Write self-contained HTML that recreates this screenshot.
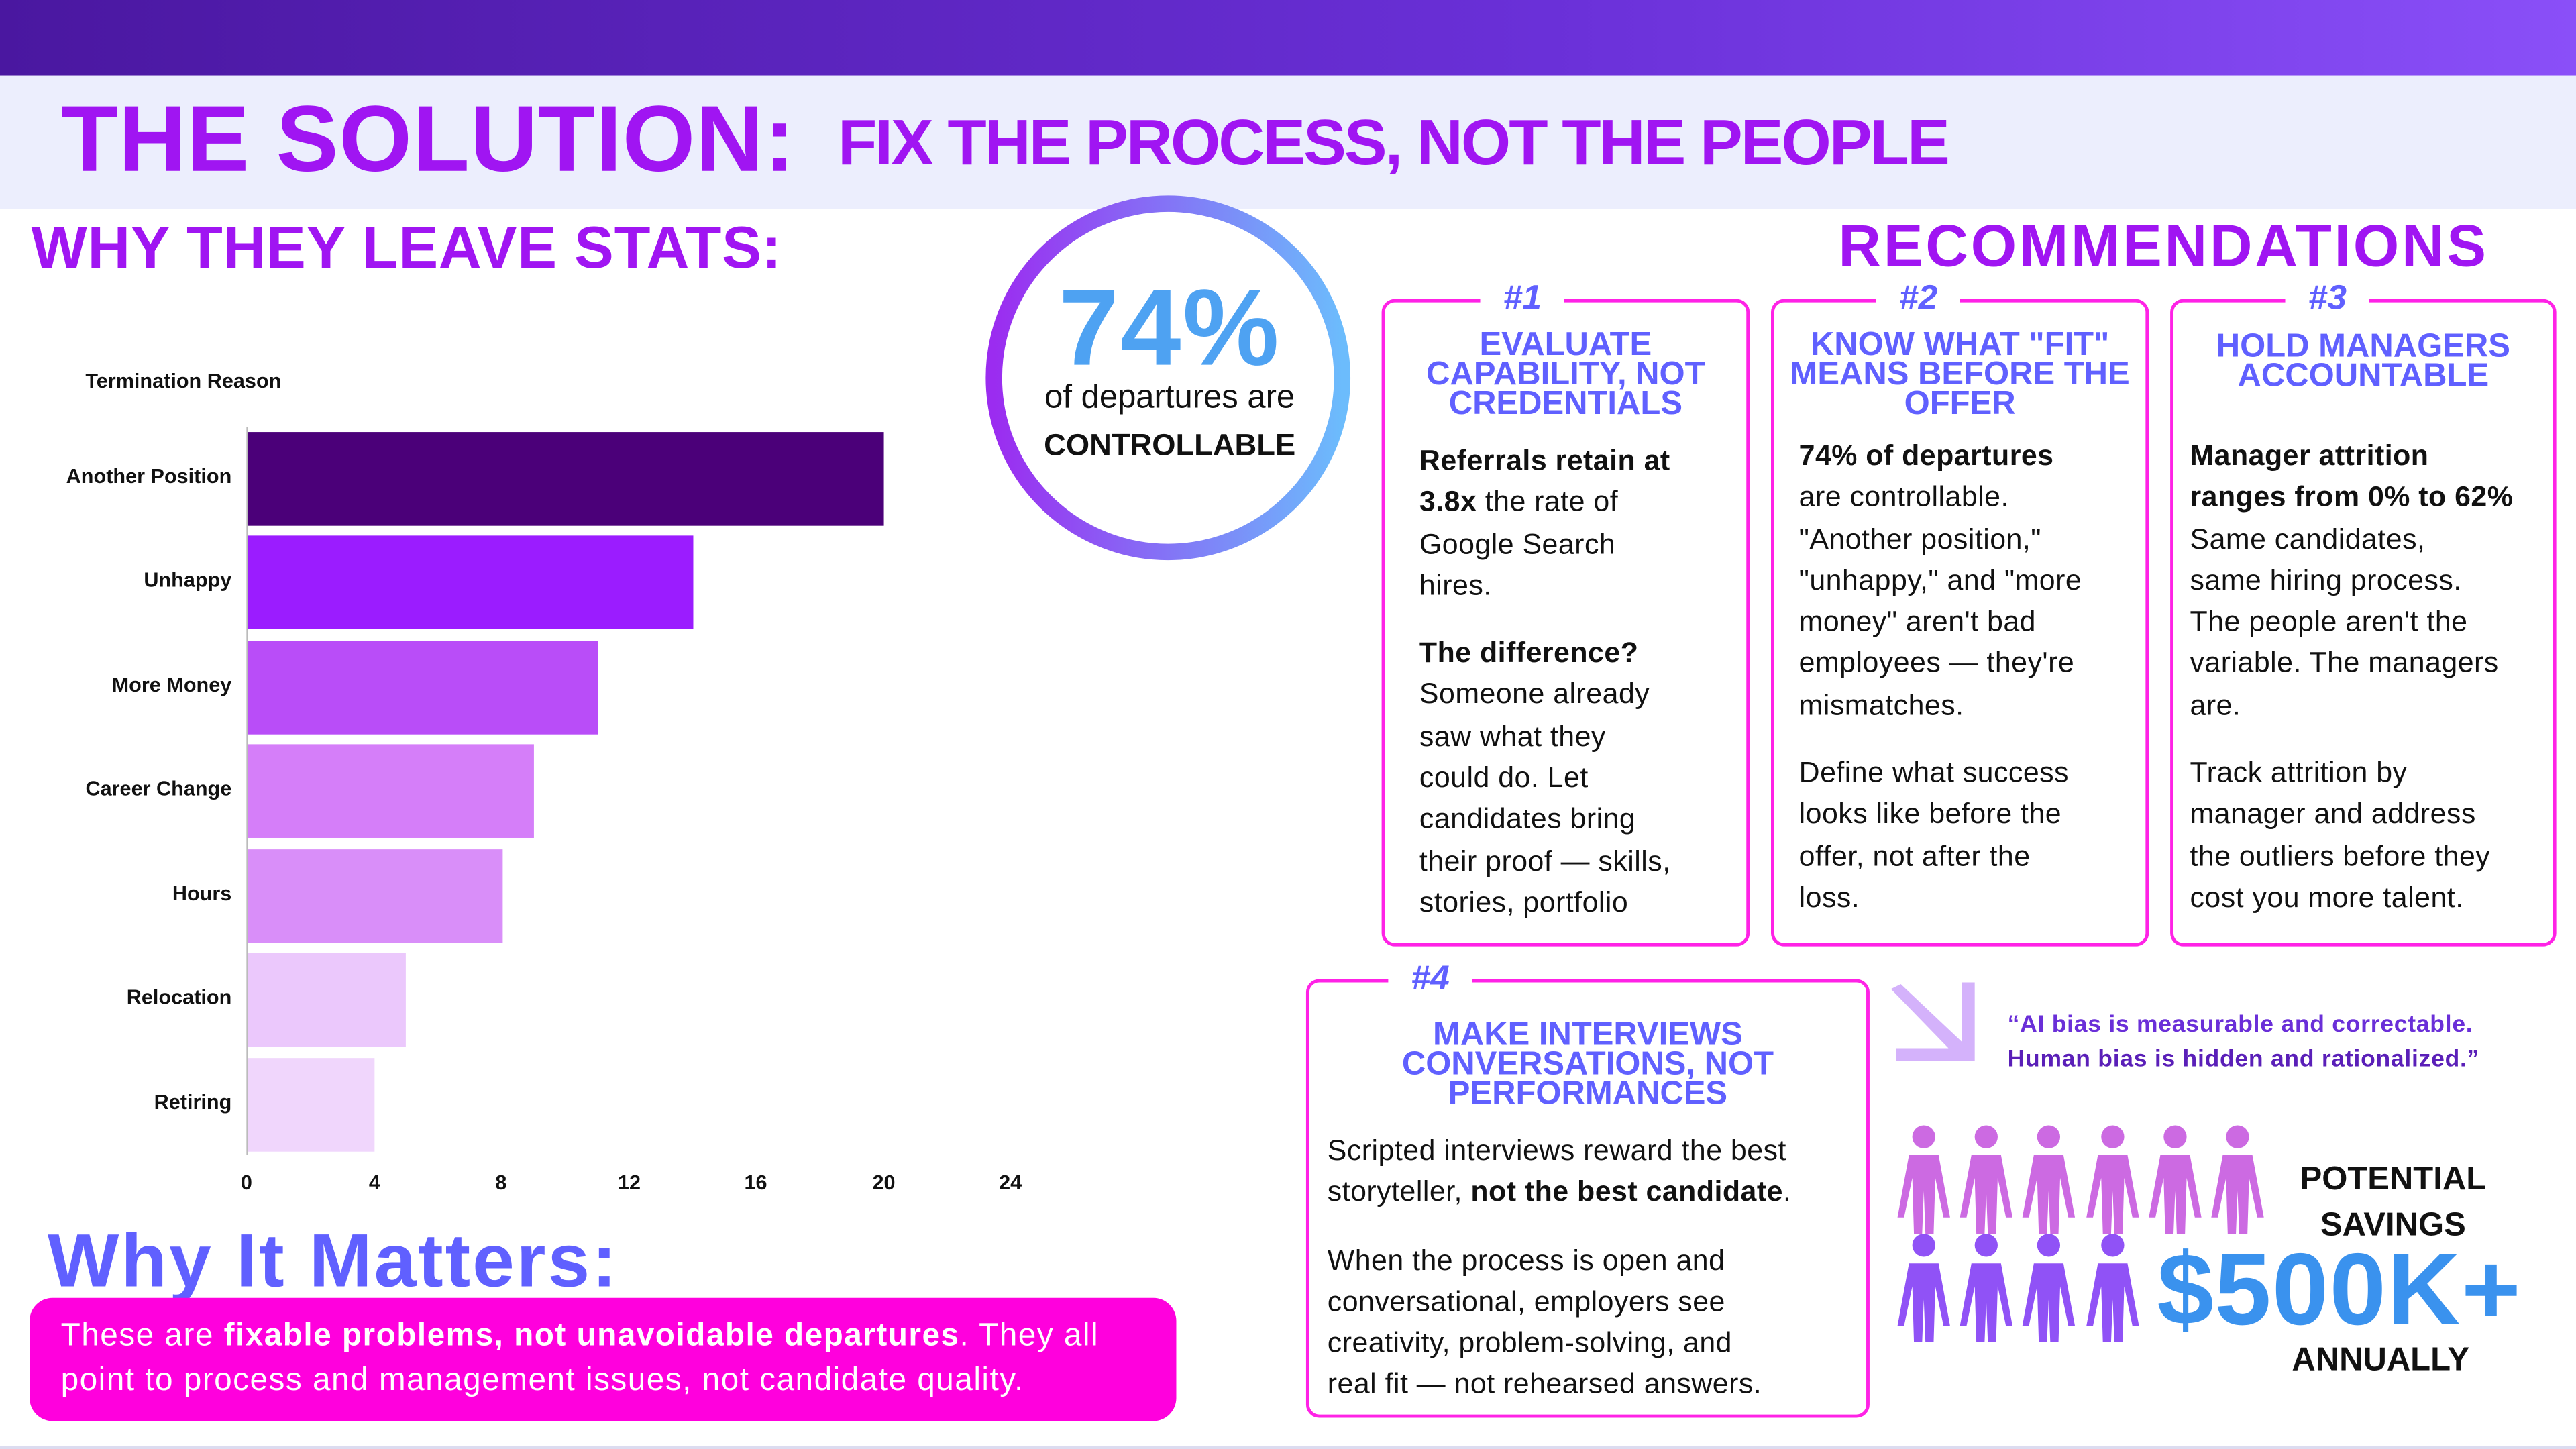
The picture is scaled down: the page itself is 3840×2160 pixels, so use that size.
<!DOCTYPE html>
<html><head><meta charset="utf-8"><style>
*{margin:0;padding:0;box-sizing:border-box}
html,body{width:3840px;height:2160px;overflow:hidden;background:#fff}
#w{position:absolute;left:0;top:0;width:1568px;height:882px;transform:scale(2.44898);transform-origin:0 0;font-family:"Liberation Sans",sans-serif;color:#111}
.a{position:absolute;white-space:nowrap}
.card{position:absolute;border:2px solid #ff22e6;border-radius:8px}
.num{position:absolute;top:-14px;background:#fff;color:#6060ff;font-weight:bold;font-size:21px;font-style:italic;padding:0 14px;text-align:center}
.tt{position:absolute;left:0;right:0;text-align:center;color:#6060ff;font-weight:bold;font-size:20px;line-height:18px}
.bd{position:absolute;font-size:17.5px;line-height:25.3px;color:#111;white-space:nowrap;letter-spacing:0.2px}
.bd p{margin-top:16px}
.yl{position:absolute;right:1427px;font-size:12.5px;font-weight:bold;text-align:right;white-space:nowrap}
.bar{position:absolute;left:151px;height:57px}
.xt{position:absolute;top:713px;font-size:12.5px;font-weight:bold;width:30px;margin-left:-15px;text-align:center}
</style></head><body><div id="w">
<div class="a" style="left:0;top:0;width:1568px;height:46px;background:linear-gradient(90deg,#4a17a0,#6a30d8 60%,#8a4ff8)"></div>
<div class="a" style="left:0;top:46px;width:1568px;height:81px;background:#eceefd"></div>
<div class="a" style="left:37px;top:52px;font-size:57px;font-weight:bold;color:#a015f2;letter-spacing:0.3px">THE SOLUTION:</div>
<div class="a" style="left:510px;top:66px;font-size:39px;font-weight:bold;color:#a015f2;letter-spacing:-1.2px">FIX THE PROCESS, NOT THE PEOPLE</div>
<div class="a" style="left:19px;top:130px;font-size:36px;font-weight:bold;color:#a015f2;letter-spacing:0.3px">WHY THEY LEAVE STATS:</div>

<div class="a" style="left:52px;top:225px;font-size:12.5px;font-weight:bold">Termination Reason</div>
<div class="a" style="left:150px;top:260px;width:1px;height:443px;background:#bbb"></div>
<div class="bar" style="top:263px;width:387px;background:#4b0079"></div>
<div class="bar" style="top:326px;width:271px;background:#9b1cff"></div>
<div class="bar" style="top:390px;width:213px;background:#b94df8"></div>
<div class="bar" style="top:453px;width:174px;background:#d57ef9"></div>
<div class="bar" style="top:517px;width:155px;background:#d98ef9"></div>
<div class="bar" style="top:580px;width:96px;background:#ebc8fc"></div>
<div class="bar" style="top:644px;width:77px;background:#f0d6fc"></div>
<div class="yl" style="top:283px">Another Position</div>
<div class="yl" style="top:346px">Unhappy</div>
<div class="yl" style="top:410px">More Money</div>
<div class="yl" style="top:473px">Career Change</div>
<div class="yl" style="top:537px">Hours</div>
<div class="yl" style="top:600px">Relocation</div>
<div class="yl" style="top:664px">Retiring</div>
<div class="xt" style="left:150px">0</div><div class="xt" style="left:228px">4</div><div class="xt" style="left:305px">8</div><div class="xt" style="left:383px">12</div><div class="xt" style="left:460px">16</div><div class="xt" style="left:538px">20</div><div class="xt" style="left:615px">24</div>

<svg class="a" style="left:598px;top:117px" width="228" height="228"><defs><linearGradient id="g" x1="0" x2="1"><stop offset="0" stop-color="#9b2cf0"/><stop offset="1" stop-color="#6cbcfc"/></linearGradient></defs><circle cx="113" cy="113" r="106" fill="none" stroke="url(#g)" stroke-width="10"/></svg>
<div class="a" style="left:598px;width:228px;top:161px;text-align:center;font-size:66px;font-weight:bold;color:#4ea2f2;letter-spacing:1px">74%</div>
<div class="a" style="left:598px;width:228px;top:231px;text-align:center;font-size:20px">of departures are</div>
<div class="a" style="left:598px;width:228px;top:260px;text-align:center;font-size:18.5px;font-weight:bold">CONTROLLABLE</div>

<div class="a" style="left:1119px;top:129px;font-size:36px;font-weight:bold;color:#a015f2;letter-spacing:1.5px">RECOMMENDATIONS</div>

<div class="card" style="left:841px;top:182px;width:224px;height:394px">
<div class="num" style="left:58px">#1</div>
<div class="tt" style="top:17px">EVALUATE<br>CAPABILITY, NOT<br>CREDENTIALS</div>
<div class="bd" style="left:21px;top:84px"><b>Referrals retain at</b><br><b>3.8x</b> the rate of<br>Google Search<br>hires.<p><b>The difference?</b><br>Someone already<br>saw what they<br>could do. Let<br>candidates bring<br>their proof — skills,<br>stories, portfolio</p></div>
</div>
<div class="card" style="left:1078px;top:182px;width:230px;height:394px">
<div class="num" style="left:62px">#2</div>
<div class="tt" style="top:17px">KNOW WHAT "FIT"<br>MEANS BEFORE THE<br>OFFER</div>
<div class="bd" style="left:15px;top:81px"><b>74% of departures</b><br>are controllable.<br>"Another position,"<br>"unhappy," and "more<br>money" aren't bad<br>employees — they're<br>mismatches.<p>Define what success<br>looks like before the<br>offer, not after the<br>loss.</p></div>
</div>
<div class="card" style="left:1321px;top:182px;width:235px;height:394px">
<div class="num" style="left:68px">#3</div>
<div class="tt" style="top:18px">HOLD MANAGERS<br>ACCOUNTABLE</div>
<div class="bd" style="left:10px;top:81px"><b>Manager attrition</b><br><b>ranges from 0% to 62%</b><br>Same candidates,<br>same hiring process.<br>The people aren't the<br>variable. The managers<br>are.<p>Track attrition by<br>manager and address<br>the outliers before they<br>cost you more talent.</p></div>
</div>
<div class="card" style="left:795px;top:596px;width:343px;height:267px">
<div class="num" style="left:48px">#4</div>
<div class="tt" style="top:23px">MAKE INTERVIEWS<br>CONVERSATIONS, NOT<br>PERFORMANCES</div>
<div class="bd" style="left:11px;top:90px">Scripted interviews reward the best<br>storyteller, <b>not the best candidate</b>.<p>When the process is open and<br>conversational, employers see<br>creativity, problem-solving, and<br>real fit — not rehearsed answers.</p></div>
</div>

<svg class="a" style="left:1150px;top:598px" width="54" height="52"><polygon points="44,0 52,0 52,48 4,48 4,40 36,40 1,4 7,1 44,36" fill="#d4b2fb"/></svg>
<div class="a" style="left:1222px;top:614px;font-size:14.5px;font-weight:bold;line-height:21px;color:#6a2fd8;letter-spacing:0.3px">“AI bias is measurable and correctable.<br><span style="color:#5a1fb8">Human bias is hidden and rationalized.”</span></div>

<svg class="a" style="left:1150px;top:683px" width="240" height="140">
<defs><g id="p"><circle cx="0" cy="9" r="7"/><path d="M-9 20 H9 L16 58 H12 L7 34 L6 68 H1 L0 42 L-1 68 H-6 L-7 34 L-12 58 H-16 Z"/></g></defs>
<g fill="#cc6ae2"><use href="#p" x="21" y="0"/><use href="#p" x="59" y="0"/><use href="#p" x="97" y="0"/><use href="#p" x="136" y="0"/><use href="#p" x="174" y="0"/><use href="#p" x="212" y="0"/></g>
<g fill="#9052f6"><use href="#p" x="21" y="66"/><use href="#p" x="59" y="66"/><use href="#p" x="97" y="66"/><use href="#p" x="136" y="66"/></g>
</svg>
<div class="a" style="left:1400px;top:704px;font-size:20px;font-weight:bold;line-height:28px;text-align:center">POTENTIAL<br>SAVINGS</div>
<div class="a" style="left:1313px;top:750px;font-size:62px;font-weight:bold;color:#3a92ee;letter-spacing:0.5px">$500K+</div>
<div class="a" style="left:1395px;top:817px;font-size:20px;font-weight:bold">ANNUALLY</div>

<div class="a" style="left:29px;top:740px;font-size:46px;font-weight:bold;color:#6060ff;letter-spacing:1.2px">Why It Matters:</div>
<div class="a" style="left:18px;top:790px;width:698px;height:75px;background:#ff00dd;border-radius:14px"></div>
<div class="a" style="left:37px;top:800px;font-size:19.5px;line-height:27px;color:#fff;letter-spacing:0.6px">These are <b>fixable problems, not unavoidable departures</b>. They all<br>point to process and management issues, not candidate quality.</div>
<div class="a" style="left:0;top:880px;width:1568px;height:2px;background:#dcdcf0"></div>
</div></body></html>
